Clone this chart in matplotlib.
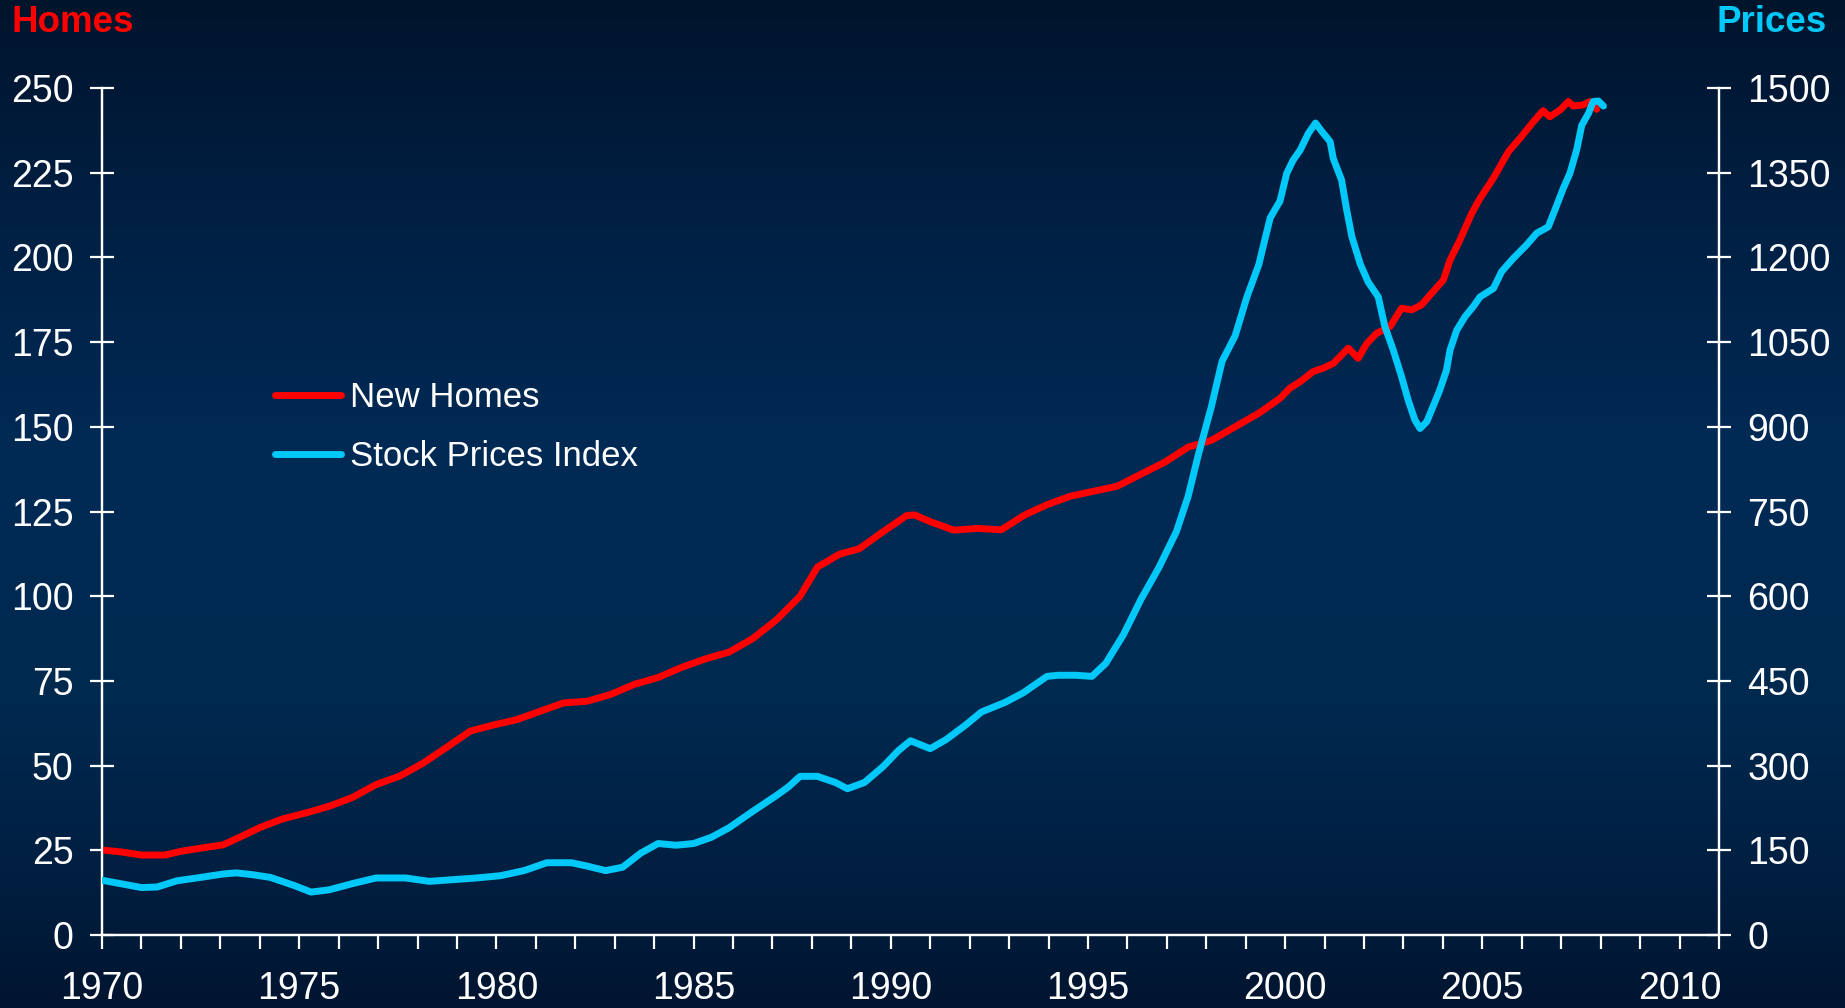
import numpy as np
import matplotlib.pyplot as plt
from matplotlib.colors import LinearSegmentedColormap

plt.rcParams['font.family'] = ['Liberation Sans', 'DejaVu Sans']

# New Homes (left axis)
homes_years = [1970.0, 1970.5, 1971.0, 1971.6, 1972.0, 1972.6, 1973.07, 1973.5, 1974.0, 1974.56,
               1975.16, 1975.76, 1976.35, 1976.95, 1977.55, 1978.14, 1978.74, 1979.34, 1979.93,
               1980.5, 1981.1, 1981.7, 1982.3, 1982.9, 1983.5, 1984.1, 1984.7, 1985.3, 1985.9,
               1986.5, 1987.1, 1987.7, 1988.14, 1988.7, 1989.2, 1989.8, 1990.4, 1990.6, 1991.0,
               1991.6, 1992.2, 1992.8, 1993.4, 1993.96, 1994.55, 1995.15, 1995.75, 1996.34,
               1996.94, 1997.54, 1998.13, 1998.73, 1999.33, 1999.87, 2000.12, 2000.38, 2000.71,
               2000.96, 2001.22, 2001.6, 2001.85, 2002.07, 2002.32, 2002.66, 2002.95, 2003.21,
               2003.46, 2003.75, 2004.01, 2004.18, 2004.43, 2004.73, 2004.94, 2005.28, 2005.66,
               2005.95, 2006.29, 2006.54, 2006.71, 2006.97, 2007.18, 2007.3, 2007.56, 2007.73,
               2007.9]
homes = [25.1, 24.5, 23.6, 23.6, 24.7, 25.8, 26.6, 28.9, 31.7, 34.2,
         36.0, 38.0, 40.6, 44.4, 46.9, 50.7, 55.4, 60.2, 62.0,
         63.5, 66.0, 68.5, 69.0, 71.0, 74.0, 76.0, 79.0, 81.5, 83.5,
         87.5, 93.0, 100.0, 108.6, 112.4, 114.0, 119.0, 123.8, 124.0, 122.0,
         119.5, 120.0, 119.6, 124.0, 127.0, 129.5, 131.0, 132.5, 136.0,
         139.5, 144.0, 146.0, 150.0, 154.0, 158.4, 161.4, 163.3, 166.3,
         167.3, 168.7, 173.2, 170.2, 174.6, 177.6, 179.6, 185.0, 184.5,
         186.0, 189.9, 193.3, 199.2, 205.1, 213.0, 217.4, 223.4, 231.2,
         235.1, 240.0, 243.3, 241.5, 243.5, 246.0, 244.7, 245.0, 246.0,
         243.7]

# Stock Prices Index (right axis)
price_years = [1970.0, 1970.54, 1971.0, 1971.4, 1971.9, 1972.5, 1973.07, 1973.4, 1973.8, 1974.27,
               1974.86, 1975.3, 1975.76, 1976.35, 1976.95, 1977.7, 1978.3, 1978.9, 1979.5, 1980.1,
               1980.7, 1981.28, 1981.9, 1982.3, 1982.77, 1983.2, 1983.66, 1984.1, 1984.56, 1985.0,
               1985.45, 1985.9, 1986.5, 1987.1, 1987.4, 1987.7, 1988.14, 1988.6, 1988.9, 1989.33,
               1989.8, 1990.2, 1990.5, 1991.0, 1991.4, 1991.9, 1992.3, 1992.9, 1993.36, 1993.96,
               1994.25, 1994.7, 1995.1, 1995.45, 1995.9, 1996.34, 1996.8, 1997.24, 1997.54, 1997.8,
               1998.13, 1998.4, 1998.73, 1999.03, 1999.33, 1999.62, 1999.87, 2000.04, 2000.2,
               2000.38, 2000.59, 2000.77, 2000.93, 2001.14, 2001.22, 2001.43, 2001.56, 2001.69,
               2001.9, 2002.1, 2002.36, 2002.53, 2002.74, 2002.95, 2003.12, 2003.29, 2003.42,
               2003.59, 2003.75, 2003.92, 2004.09, 2004.18, 2004.35, 2004.56, 2004.77, 2004.94,
               2005.28, 2005.49, 2005.78, 2006.12, 2006.38, 2006.67, 2006.84, 2007.05, 2007.22,
               2007.39, 2007.52, 2007.69, 2007.81, 2007.94, 2008.07]
prices = [97, 90, 84, 85, 96, 102, 108, 110, 107, 102,
          88, 76, 80, 91, 101, 101, 95, 98, 101, 105,
          114, 128, 128, 122, 114, 120, 145, 162, 159, 162,
          173, 190, 219, 247, 262, 281, 281, 270, 259, 270,
          298, 327, 344, 330, 346, 372, 395, 412, 429, 458,
          460, 460, 458, 481, 532, 594, 651, 714, 777, 851,
          936, 1016, 1061, 1130, 1187, 1270, 1300, 1349, 1372,
          1390, 1420, 1438, 1423, 1405, 1375, 1337, 1284, 1237,
          1189, 1157, 1130, 1077, 1036, 989, 947, 912, 897,
          909, 936, 965, 1000, 1036, 1071, 1095, 1113, 1130,
          1145, 1175, 1198, 1222, 1243, 1254, 1284, 1322, 1349,
          1390, 1434, 1455, 1476, 1477, 1468]

homes_ticks = [0, 25, 50, 75, 100, 125, 150, 175, 200, 225, 250]
price_ticks = [0, 150, 300, 450, 600, 750, 900, 1050, 1200, 1350, 1500]
year_labels = [1970, 1975, 1980, 1985, 1990, 1995, 2000, 2005, 2010]

red = '#ff0000'
cyan = '#00c8f8'
white = 'white'

fig = plt.figure(figsize=(18.45, 10.08), dpi=100)

# background gradient
bg = fig.add_axes([0, 0, 1, 1], zorder=-10)
cmap = LinearSegmentedColormap.from_list('bg', [(0.0, '#00142c'), (0.2, '#001f42'), (0.45, '#002a55'),
                                                (0.7, '#00294f'), (0.88, '#001e40'), (1.0, '#001530')])
grad = np.linspace(0, 1, 256).reshape(-1, 1)
bg.imshow(grad, aspect='auto', cmap=cmap, extent=[0, 1, 1, 0])
bg.axis('off')

ax = fig.add_axes([102 / 1845, 1 - 935 / 1008, (1719 - 102) / 1845, (935 - 88) / 1008])
ax.set_facecolor('none')
ax2 = ax.twinx()

l1, = ax.plot(homes_years, homes, color=red, lw=5, solid_capstyle='round', solid_joinstyle='round',
              label='New Homes', zorder=3)
l2, = ax2.plot(price_years, prices, color=cyan, lw=5, solid_capstyle='round', solid_joinstyle='round',
               label='Stock Prices Index', zorder=3)

ax.set_xlim(1970, 2011)
ax.set_ylim(0, 250)
ax2.set_ylim(0, 1500)

ax.set_xticks(year_labels)
ax.set_xticklabels([str(y) for y in year_labels])
ax.set_xticks(np.arange(1970, 2012), minor=True)
ax.set_yticks(homes_ticks)
ax2.set_yticks(price_ticks)

for a in (ax, ax2):
    for s in a.spines.values():
        s.set_color(white)
        s.set_linewidth(1.6)
    a.spines['top'].set_visible(False)

ax.tick_params(axis='y', direction='inout', length=17, width=1.6, colors=white, labelsize=27, pad=12)
ax2.tick_params(axis='y', direction='inout', length=17, width=1.6, colors=white, labelsize=27, pad=12)
ax.tick_params(axis='x', which='both', direction='out', length=10, width=1.6, colors=white,
               labelsize=27, pad=16)

fig.text(12 / 1845, 1 - 5 / 1008, 'Homes', color=red, fontsize=26.5, fontweight='bold', ha='left', va='top')
fig.text(1827 / 1845, 1 - 5 / 1008, 'Prices', color=cyan, fontsize=26.5, fontweight='bold', ha='right', va='top')

leg = ax2.legend(handles=[l1, l2], loc='upper left', bbox_to_anchor=(275 / 1845, 1 - 381 / 1008),
                 bbox_transform=fig.transFigure, frameon=False, fontsize=25, handlelength=1.9,
                 handletextpad=0.25, labelspacing=0.75, borderpad=0, borderaxespad=0)
for t in leg.get_texts():
    t.set_color(white)

fig.savefig('out.png', dpi=100, facecolor='#001a38')
